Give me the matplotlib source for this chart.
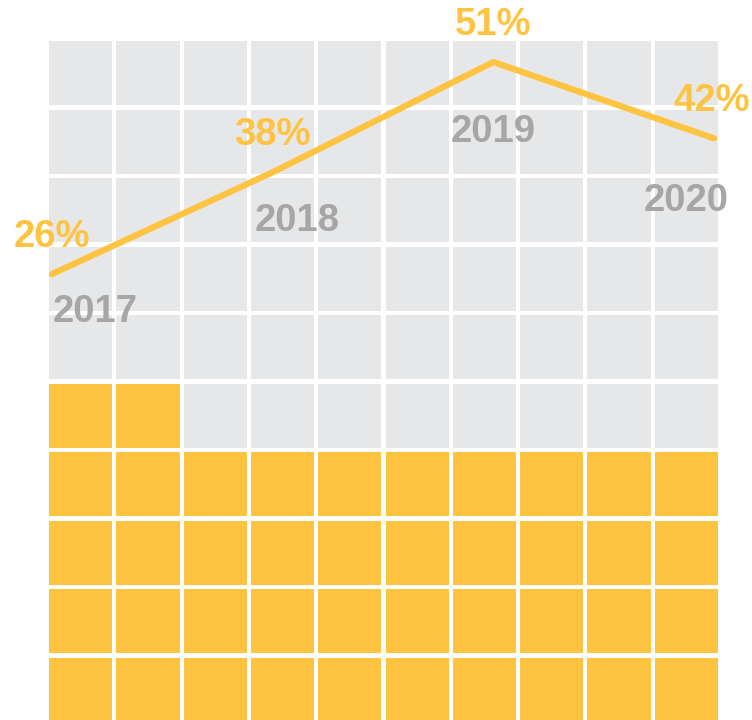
import matplotlib.pyplot as plt
from matplotlib.patches import Rectangle

# data
years = ['2017', '2018', '2019', '2020']
share = [26, 38, 51, 42]
filled_cells = 42

YELLOW = '#FEC340'
GREY_CELL = '#E6E7E8'
GREY_TEXT = '#A6A6A6'

W, H = 752, 720
fig = plt.figure(figsize=(W / 100, H / 100), dpi=100)
plt.rcParams['font.family'] = ['Liberation Sans', 'DejaVu Sans']

# waffle grid (10 x 10), filled from the bottom row, left to right
ax = fig.add_axes([47 / W, -4 / H, 673 / W, 685 / H])
gap = 0.06
for i in range(100):
    row, col = divmod(i, 10)
    color = YELLOW if i < filled_cells else GREY_CELL
    ax.add_patch(Rectangle((col + gap / 2, row + gap / 2), 1 - gap, 1 - gap,
                           facecolor=color, edgecolor='none'))
ax.set_xlim(0, 10)
ax.set_ylim(0, 10)
ax.axis('off')

# line overlay
ax2 = fig.add_axes([0, 0, 1, 1])
ax2.patch.set_alpha(0)
px_x = 220.67
ax2.set_xlim(-52 / px_x, (W - 52) / px_x)
px_y = 8.48
ax2.set_ylim(-225.5 / px_y, (H - 225.5) / px_y)
ax2.axis('off')
xs = list(range(len(years)))
ax2.plot(xs, share, color=YELLOW, lw=4.5, solid_capstyle='round',
         solid_joinstyle='miter')

pct_dx = [0, 0, 0, -2]
year_off = [(43, -38), (24, -49), (0, -70), (-28, -63)]
for x, v, y, dx, (ydx, ydy) in zip(xs, share, years, pct_dx, year_off):
    ax2.annotate(f'{v}%', (x, v), xytext=(dx, 37), textcoords='offset pixels',
                 ha='center', va='center', fontsize=27.5, fontweight='bold',
                 color=YELLOW)
    ax2.annotate(y, (x, v), xytext=(ydx, ydy), textcoords='offset pixels',
                 ha='center', va='center', fontsize=27.5, fontweight='bold',
                 color=GREY_TEXT)

fig.savefig('out.png', dpi=100)
